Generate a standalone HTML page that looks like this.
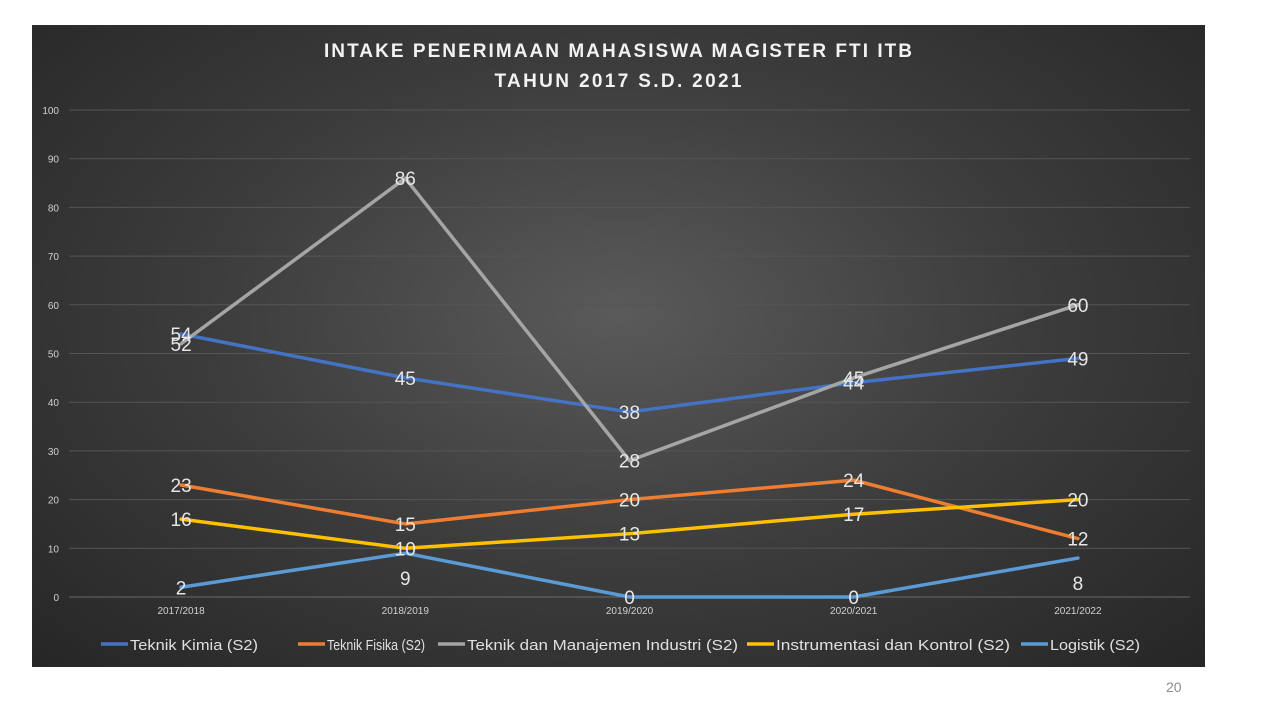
<!DOCTYPE html>
<html><head><meta charset="utf-8">
<style>
html,body{margin:0;padding:0;background:#fff;width:1280px;height:720px;overflow:hidden;font-family:"Liberation Sans",Arial,sans-serif;}
#chart{position:absolute;left:32px;top:25px;width:1173px;height:642px;background:radial-gradient(ellipse at 50% 45%,#5a5a5a 0%,#3c3c3c 50%,#262626 100%);}
#pnum{position:absolute;left:1166px;top:679px;font-size:14px;color:#8c8c8c;}
</style></head><body>
<div id="chart">
<svg id="svg" width="1173" height="642" viewBox="32 25 1173 642">
<text x="618" y="57" text-anchor="middle" fill="#f2f2f2" font-size="19" font-weight="bold" textLength="588" lengthAdjust="spacing">INTAKE PENERIMAAN MAHASISWA MAGISTER FTI ITB</text>
<text x="618" y="87" text-anchor="middle" fill="#f2f2f2" font-size="19" font-weight="bold" textLength="247" lengthAdjust="spacing">TAHUN 2017 S.D. 2021</text>
<g id="grid"></g><g id="lines"></g><g id="labels"></g><g id="legend"></g>
</svg>
</div>
<div id="pnum">20</div>
<script>
const categories=["2017/2018","2018/2019","2019/2020","2020/2021","2021/2022"];
const yTicks=[0,10,20,30,40,50,60,70,80,90,100];
const seriesNames=["Teknik Kimia (S2)","Teknik Fisika (S2)","Teknik dan Manajemen Industri (S2)","Instrumentasi dan Kontrol (S2)","Logistik (S2)"];
const kimia=[54,45,38,44,49];
const fisika=[23,15,20,24,12];
const tmi=[52,86,28,45,60];
const instrumentasi=[16,10,13,17,20];
const logistik=[2,9,0,0,8];
const series=[kimia,fisika,tmi,instrumentasi,logistik];
const colors=["#4472C4","#ED7D31","#A5A5A5","#FFC000","#5B9BD5"];
const NS="http://www.w3.org/2000/svg";
const x0=69,x1=1190,yBase=597,yTop=110;
const xs=i=>x0+(x1-x0)/categories.length*(i+0.5);
const ys=v=>yBase-(yBase-yTop)*v/100;
function mk(tag,attrs,parent){const e=document.createElementNS(NS,tag);for(const k in attrs)e.setAttribute(k,attrs[k]);parent.appendChild(e);return e;}
const grid=document.getElementById('grid');
yTicks.forEach(t=>{
 const l=mk('line',{x1:x0,x2:x1,y1:ys(t),y2:ys(t),stroke:t===0?'#6a6a6a':'#555','stroke-width':1},grid);
 
 
 const tx=mk('text',{x:59,y:ys(t)+4,'text-anchor':'end',fill:'#d0d0d0','font-size':10},grid);
 tx.textContent=t;
 
 
});
categories.forEach((c,i)=>{
 const tx=mk('text',{x:xs(i),y:ys(0)+17,'text-anchor':'middle',fill:'#d0d0d0','font-size':10},grid);
 tx.textContent=c;
 
 
});
const lines=document.getElementById('lines'),labels=document.getElementById('labels');
series.forEach((s,si)=>{
 const p=mk('polyline',{points:s.map((v,i)=>xs(i)+','+ys(v)).join(' '),fill:'none',stroke:colors[si],'stroke-width':3.5,'stroke-linejoin':'round','stroke-linecap':'round'},lines);
 
 
 s.forEach((v,i)=>{
  let dy=7;
  if(si===4&&v>4)dy=32;
  const t=mk('text',{x:xs(i),y:ys(v)+dy,'text-anchor':'middle',fill:'#e6e6e6','font-size':19},labels);
  t.textContent=v;
  
  
 });
});
const leg=document.getElementById('legend');
const legX=[101,298,438,747,1021];
const legW=[128,98,271,234,90];
seriesNames.forEach((n,i)=>{
 const g=mk('g',{},leg);
 
 
 mk('line',{x1:legX[i],x2:legX[i]+27,y1:644,y2:644,stroke:colors[i],'stroke-width':3.5},g);
 const t=mk('text',{x:legX[i]+29,y:650,fill:'#e0e0e0','font-size':15,textLength:legW[i],lengthAdjust:'spacingAndGlyphs'},g);
 t.textContent=n;
});
</script>
</body></html>
